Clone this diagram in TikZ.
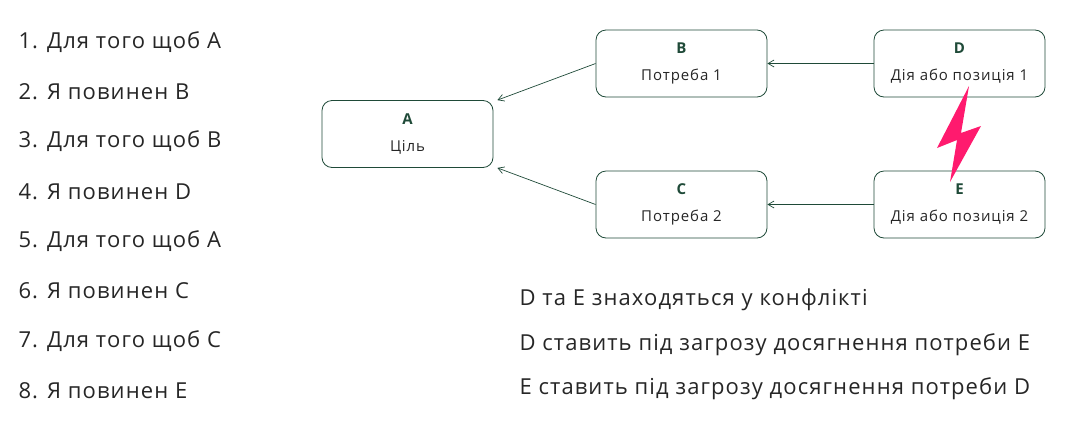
\documentclass[tikz,border=0pt]{standalone}
\usepackage{fontspec}
\setmainfont{Open Sans}
\usetikzlibrary{arrows.meta}
\definecolor{dg}{HTML}{1F4A38}
\definecolor{pk}{HTML}{FF1A6E}
\begin{document}
\begin{tikzpicture}[x=1pt,y=-1pt,
 box/.style={draw=dg,rounded corners=10pt,minimum width=171pt,minimum height=67pt,line width=0.8pt,align=center,font=\fontsize{15}{27}\selectfont\addfontfeatures{LetterSpace=6},text=black!85},
 arr/.style={draw=dg,line width=0.7pt,-{Straight Barb[length=6pt,width=7pt]}},
 lt/.style={anchor=west,font=\fontsize{22}{24}\selectfont\addfontfeatures{LetterSpace=5},text=black!85}]
\useasboundingbox (0,0) rectangle (1076,429);
\node[box] (A) at (407.5,134) {\textbf{\textcolor{dg}{A}}\\Ціль};
\node[box] (B) at (681.5,63.5) {\textbf{\textcolor{dg}{B}}\\Потреба 1};
\node[box] (D) at (959.5,63.5) {\textbf{\textcolor{dg}{D}}\\Дія або позиція 1};
\node[box] (C) at (681.5,204.5) {\textbf{\textcolor{dg}{C}}\\Потреба 2};
\node[box] (E) at (959.5,204.5) {\textbf{\textcolor{dg}{E}}\\Дія або позиція 2};
\draw[arr] (D.west) -- (B.east);
\draw[arr] (E.west) -- (C.east);
\draw[arr] (B.west) -- ([xshift=4pt]A.north east);
\draw[arr] (C.west) -- ([xshift=4pt]A.south east);
\fill[pk] (969,86) -- (937,148) -- (957,140) -- (950,182) -- (981,126) -- (961,133) -- cycle;
\foreach \t [count=\i] in {1. Для того щоб A,2. Я повинен B,3. Для того щоб B,4. Я повинен D,5. Для того щоб A,6. Я повинен C,7. Для того щоб C,8. Я повинен E}
  \node[lt] (L\i) at (15,{42+49.8*(\i-1)}) {\t};
\node[lt] (R1) at (516,300) {D та E знаходяться у конфлікті};
\node[lt] (R2) at (516,345) {D ставить під загрозу досягнення потреби E};
\node[lt] (R3) at (516,389) {E ставить під загрозу досягнення потреби D};
\end{tikzpicture}
\end{document}
